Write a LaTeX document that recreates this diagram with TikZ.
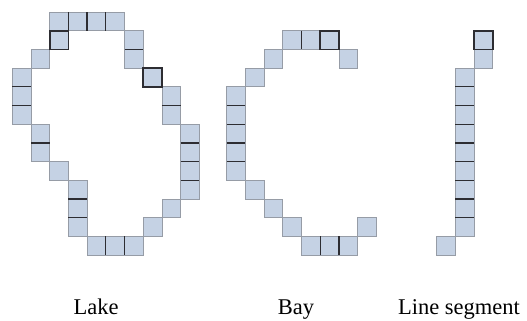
\documentclass[tikz,border=0pt]{standalone}
\usepackage{fontspec}
\setmainfont{Liberation Serif}
\usepackage{tikz}
\usetikzlibrary{positioning}

\definecolor{cellfill}{RGB}{197,210,228}
\definecolor{cellgray}{RGB}{150,156,166}
\definecolor{celldark}{RGB}{45,45,50}

\begin{document}
\begin{tikzpicture}[
    x=18.7pt, y=-18.7pt,
    cell/.style={fill=cellfill, draw=cellgray, line width=0.8pt},
    hot/.style={draw=celldark, line width=1.6pt},
    link/.style={draw=celldark, line width=1.3pt},
    tag/.style={font=\fontsize{22.5}{27}\selectfont, anchor=base, inner sep=0pt}
]
\useasboundingbox (-0.658,-0.642) rectangle (27.524,16.471);

% Lake
\foreach \c/\r in {2/0,3/0,4/0,5/0,2/1,6/1,1/2,6/2,0/3,7/3,0/4,8/4,0/5,8/5,1/6,9/6,1/7,9/7,2/8,9/8,3/9,9/9,3/10,8/10,3/11,7/11,4/12,5/12,6/12}
  \draw[cell] (\c,\r) rectangle ++(1,1);
\foreach \c/\r in {3/0,4/0,5/0,5/12,6/12}
  \draw[link] (\c,\r) -- ++(0,1);
\foreach \c/\r in {6/2,0/4,0/5,8/5,1/7,9/7,9/8,9/9,3/10,3/11}
  \draw[link] (\c,\r) -- ++(1,0);
\foreach \c/\r in {2/1,7/3}
  \draw[hot] (\c,\r) rectangle ++(1,1);

% Bay
\begin{scope}[shift={(11.465,1)}]
\foreach \c/\r in {3/0,4/0,5/0,2/1,6/1,1/2,0/3,0/4,0/5,0/6,0/7,1/8,2/9,3/10,7/10,4/11,5/11,6/11}
  \draw[cell] (\c,\r) rectangle ++(1,1);
\foreach \c/\r in {4/0,5/0,5/11,6/11}
  \draw[link] (\c,\r) -- ++(0,1);
\foreach \r in {4,...,7}
  \draw[link] (0,\r) -- ++(1,0);
\draw[hot] (5,0) rectangle ++(1,1);
\end{scope}

% Line segment
\begin{scope}[shift={(22.695,0)}]
\foreach \c/\r in {2/1,2/2,0/12}
  \draw[cell] (\c,\r) rectangle ++(1,1);
\foreach \r in {3,...,11}
  \draw[cell] (1,\r) rectangle ++(1,1);
\foreach \r in {4,...,11}
  \draw[link] (1,\r) -- ++(1,0);
\draw[hot] (2,1) rectangle ++(1,1);
\end{scope}

\node[tag] (lake) at (4.476,16.15) {Lake};
\node[tag] (bay) at (15.17,16.15) {Bay};
\node[tag] (segment) at (23.89,16.15) {Line segment};
\end{tikzpicture}
\end{document}
